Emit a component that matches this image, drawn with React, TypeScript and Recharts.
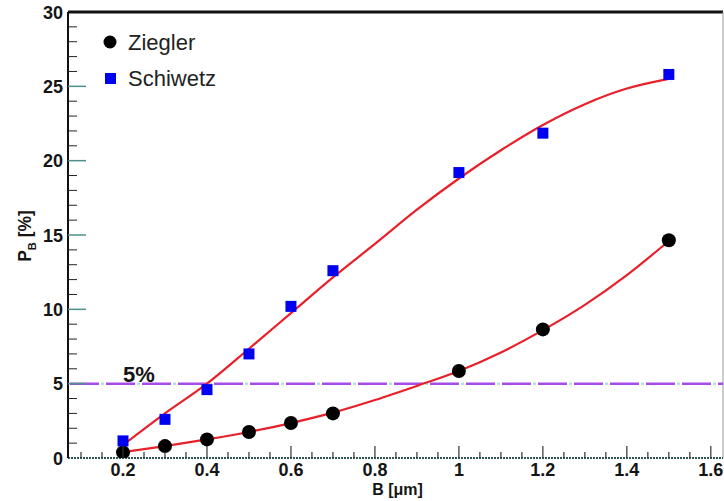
import React from 'react';
import {
  ComposedChart,
  Line,
  Scatter,
  XAxis,
  YAxis,
  ReferenceLine,
  Label,
} from 'recharts';

// ---- data ----
const bValues = [0.2, 0.3, 0.4, 0.5, 0.6, 0.7, 1.0, 1.2, 1.5];
const zieglerValues = [0.38, 0.8, 1.25, 1.75, 2.35, 3.0, 5.85, 8.65, 14.65];
const schiwetzValues = [1.15, 2.6, 4.6, 7.0, 10.2, 12.6, 19.2, 21.85, 25.8];

const fitB = [0.2, 0.3, 0.4, 0.5, 0.6, 0.7, 0.8, 0.9, 1.0, 1.1, 1.2, 1.3, 1.4, 1.5];
const zieglerFit = [0.4, 0.8, 1.25, 1.75, 2.35, 3.05, 3.9, 4.85, 5.85, 7.1, 8.6, 10.3, 12.3, 14.6];
const schiwetzFit = [0.87, 3.0, 5.0, 7.35, 9.75, 12.15, 14.4, 16.7, 18.8, 20.7, 22.4, 23.8, 24.85, 25.5];

const thresholdValue = 5;
const thresholdLabel = '5%';

const xMajorTicks = [0.2, 0.4, 0.6, 0.8, 1, 1.2, 1.4, 1.6];
const xMajorLabels = ['0.2', '0.4', '0.6', '0.8', '1', '1.2', '1.4', '1.6'];
const xAllTicks = [
  0.1, 0.15, 0.2, 0.25, 0.3, 0.35, 0.4, 0.45, 0.5, 0.55, 0.6, 0.65, 0.7, 0.75, 0.8,
  0.85, 0.9, 0.95, 1.0, 1.05, 1.1, 1.15, 1.2, 1.25, 1.3, 1.35, 1.4, 1.45, 1.5, 1.55, 1.6,
];
const yMajorTicks = [0, 5, 10, 15, 20, 25, 30];
const yAllTicks = [
  0, 1, 2, 3, 4, 5, 6, 7, 8, 9, 10, 11, 12, 13, 14, 15, 16, 17, 18, 19, 20, 21, 22, 23,
  24, 25, 26, 27, 28, 29, 30,
];

const seriesNames = ['Ziegler', 'Schiwetz'];
const xTitle = 'B [\u03bcm]';

// ---- derived tables ----
const zieglerPts = bValues.map((x, i) => ({ x, y: zieglerValues[i] }));
const schiwetzPts = bValues.map((x, i) => ({ x, y: schiwetzValues[i] }));
const zieglerFitPts = fitB.map((x, i) => ({ x, y: zieglerFit[i] }));
const schiwetzFitPts = fitB.map((x, i) => ({ x, y: schiwetzFit[i] }));

const X_MIN = 0.069;
const X_MAX = 1.629;

const FONT = '"Liberation Sans", Arial, Helvetica, sans-serif';

const renderXTick = (props: any) => {
  const { x, y, payload } = props;
  const v = payload.value;
  const idx = xMajorTicks.findIndex((m) => Math.abs(m - v) < 1e-6);
  const major = idx >= 0;
  return (
    <g key={`xt-${v}`}>
      <line x1={x} x2={x} y1={y} y2={y - (major ? 12 : 6)} stroke="#333" strokeWidth={1.2} />
      {major && (
        <text
          x={x}
          y={y + 18}
          textAnchor="middle"
          fontFamily={FONT}
          fontWeight="bold"
          fontSize={18}
          fill="#151515"
        >
          {xMajorLabels[idx]}
        </text>
      )}
    </g>
  );
};

const renderYTick = (props: any) => {
  const { x, y, payload } = props;
  const v = payload.value;
  const major = yMajorTicks.includes(v);
  return (
    <g key={`yt-${v}`}>
      {v !== 0 && v !== 30 && (
        <line
          x1={x}
          x2={x + (major ? 18 : 9)}
          y1={y}
          y2={y}
          stroke={major ? '#4f8f8c' : '#222'}
          strokeWidth={major ? 1.5 : 1}
        />
      )}
      {major && (
        <text
          x={x - 5}
          y={y + 6.5}
          textAnchor="end"
          fontFamily={FONT}
          fontWeight="bold"
          fontSize={18}
          fill="#151515"
        >
          {v}
        </text>
      )}
    </g>
  );
};

const renderXTitle = (props: any) => {
  const vb = props.viewBox || { x: 68, y: 458, width: 655 };
  return (
    <text
      x={vb.x + vb.width / 2 + 2}
      y={vb.y + 37}
      textAnchor="middle"
      fontFamily={FONT}
      fontWeight="bold"
      fontSize={16}
      fill="#151515"
    >
      {xTitle}
    </text>
  );
};

const renderYTitle = (props: any) => {
  const vb = props.viewBox || { x: 67, y: 12, width: 1, height: 446 };
  const cx = vb.x + (vb.width || 0) - 37;
  const cy = vb.y + vb.height / 2 + 1;
  return (
    <text
      x={cx}
      y={cy}
      transform={`rotate(-90 ${cx} ${cy})`}
      textAnchor="middle"
      fontFamily={FONT}
      fontWeight="bold"
      fontSize={17.5}
      fill="#151515"
    >
      P
      <tspan fontSize={11} dy={5}>B</tspan>
      <tspan dy={-5}> [%]</tspan>
    </text>
  );
};

const renderThresholdLabel = (props: any) => {
  const vb = props.viewBox || { x: 68, y: 383 };
  return (
    <text
      x={vb.x + 55}
      y={vb.y - 2}
      fontFamily={FONT}
      fontWeight="bold"
      fontSize={22}
      fill="#151515"
    >
      {thresholdLabel}
    </text>
  );
};

const Circle = (props: any) => {
  const { cx, cy } = props;
  return <circle cx={cx} cy={cy} r={7} fill="#000" />;
};

const Square = (props: any) => {
  const { cx, cy } = props;
  return <rect x={cx - 5.5} y={cy - 5.5} width={11} height={11} fill="#0000f0" />;
};

export default function App() {
  return (
    <div style={{ position: 'absolute', left: 0, top: 0, width: 724, height: 501, background: '#fff' }}>
      <ComposedChart
        width={724}
        height={501}
        margin={{ top: 12, right: 1, bottom: 42, left: 67 }}
      >
        <XAxis
          dataKey="x"
          type="number"
          domain={[X_MIN, X_MAX]}
          ticks={xAllTicks}
          interval={0}
          allowDataOverflow
          height={1}
          tickSize={0}
          tickMargin={0}
          tickLine={false}
          tick={renderXTick}
          axisLine={{ stroke: '#2e5552', strokeWidth: 2, strokeDasharray: '2 1' }}
        >
          <Label content={renderXTitle} />
        </XAxis>
        <YAxis
          dataKey="y"
          type="number"
          domain={[0, 30]}
          ticks={yAllTicks}
          interval={0}
          allowDataOverflow
          width={1}
          tickSize={0}
          tickMargin={0}
          tickLine={false}
          tick={renderYTick}
          axisLine={{ stroke: '#111', strokeWidth: 2 }}
        >
          <Label content={renderYTitle} />
        </YAxis>
        <ReferenceLine y={30} stroke="#111" strokeWidth={3} />
        <ReferenceLine x={X_MAX} stroke="#999" strokeWidth={1} />
        <ReferenceLine
          y={thresholdValue}
          stroke="#a8e4ee"
          strokeWidth={2.5}
          strokeDasharray="3 33"
          strokeDashoffset={-33}
        />
        <ReferenceLine
          y={thresholdValue}
          stroke="#a64ce8"
          strokeWidth={2.5}
          strokeDasharray="29 7"
          strokeDashoffset={-2}
        >
          <Label content={renderThresholdLabel} />
        </ReferenceLine>
        <Line
          data={schiwetzFitPts}
          dataKey="y"
          type="monotone"
          stroke="#e8202a"
          strokeWidth={2.2}
          dot={false}
          isAnimationActive={false}
        />
        <Line
          data={zieglerFitPts}
          dataKey="y"
          type="monotone"
          stroke="#e8202a"
          strokeWidth={2.2}
          dot={false}
          isAnimationActive={false}
        />
        <Scatter
          name={seriesNames[0]}
          data={zieglerPts}
          dataKey="y"
          shape={<Circle />}
          isAnimationActive={false}
        />
        <Scatter
          name={seriesNames[1]}
          data={schiwetzPts}
          dataKey="y"
          shape={<Square />}
          isAnimationActive={false}
        />
      </ComposedChart>
      <svg
        width={724}
        height={501}
        style={{ position: 'absolute', left: 0, top: 0, pointerEvents: 'none' }}
      >
        <circle cx={110} cy={42} r={6.5} fill="#000" />
        <text x={128} y={50} fontFamily={FONT} fontSize={22} fill="#222">
          {seriesNames[0]}
        </text>
        <rect x={105} y={73} width={11} height={11} fill="#0000f0" />
        <text x={128} y={86} fontFamily={FONT} fontSize={22} fill="#222">
          {seriesNames[1]}
        </text>
      </svg>
    </div>
  );
}
